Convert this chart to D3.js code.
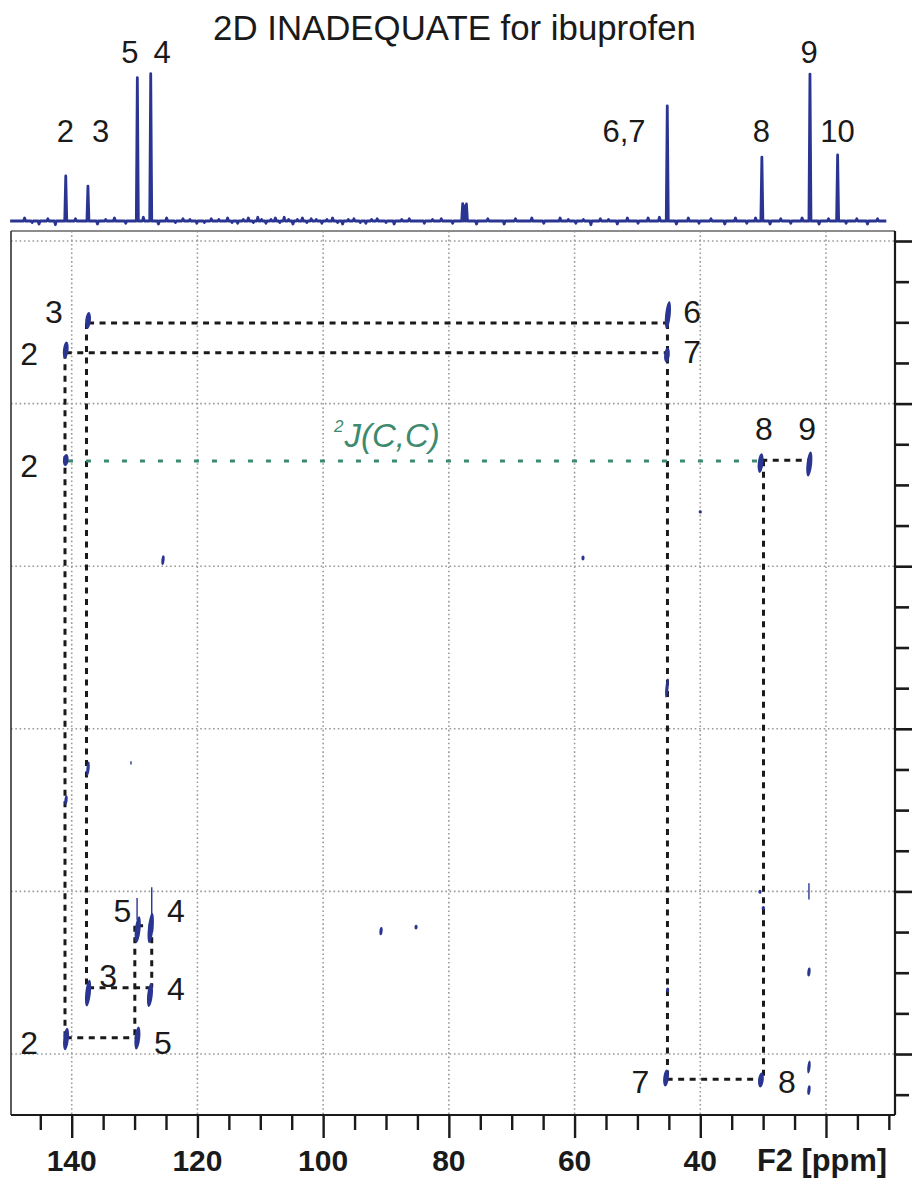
<!DOCTYPE html>
<html>
<head>
<meta charset="utf-8">
<script src="https://cdn.jsdelivr.net/npm/d3@7"></script>
<style>
  html, body { margin: 0; padding: 0; background: #fff; }
  svg { display: block; font-family: "Liberation Sans", Arial, Helvetica, sans-serif; }
</style>
</head>
<body>
<svg id="chart" width="912" height="1182"></svg>
<script>
// ---- 1D 13C projection (F2) ----
// [chemical shift ppm, intensity]
const projPeaks = [
  [140.95, 30.4], [137.42, 23.6], [129.56, 96.8], [127.43, 99.5],
  [77.8, 11.8], [77.5, 10.2], [77.2, 11.5],
  [45.25, 77.7], [30.2, 43.2], [22.55, 99.3], [18.15, 44.6]
];
// small baseline noise spikes [ppm, intensity]
const projNoise = [
  [147.5, 2], [146.3, -1], [145.2, -2], [143.8, 1.5], [142.6, -2.5], [139.4, 1.5], [135.9, -2],
  [134.6, 1], [133.2, 2], [131.4, -1.5], [128.6, 2.5], [126.2, -2], [124.9, 2], [123.5, -1],
  [122.3, 1.5], [121.2, 1], [120.1, -1.5], [118.9, -1], [117.8, 1.5], [116.6, 1],
  [115.2, 2], [114.5, -1], [113.6, -1.5], [112.7, 1], [111.9, 2], [111.1, -1], [110.4, 2.5],
  [109.8, 1], [109.1, -1.5], [108.3, 1], [107.6, 2], [106.9, -1], [106.2, 2.5], [105.5, 1],
  [104.8, -2], [104.1, 1], [103.3, 2], [102.6, -1], [101.9, 1.5], [101.1, 1], [100.2, -1.5],
  [99.4, 1], [98.5, 2], [97.7, -1], [96.9, -2], [96.0, 1], [95.1, 1.5], [94.1, -1],
  [93.2, -1.5], [92.3, 1], [91.4, 1.5], [90.0, -1], [88.7, -2], [87.5, 1], [86.3, 1.5],
  [83.9, -1.5], [82.6, 1], [81.2, 1.5], [79.4, -1.5], [75.6, -2], [73.8, 1.5], [71.2, -2],
  [69.4, 1.5], [66.8, 2], [64.9, -1.5], [62.3, 2], [61.0, 1], [59.8, -1.5], [58.6, 1],
  [57.4, -2.5], [55.9, 1.5], [54.6, 1], [53.2, -2], [51.6, 2], [49.9, -1.5], [48.3, 2],
  [46.5, 2.5], [43.8, -2], [41.9, 2], [40.2, -1.5], [38.3, 1.5], [36.1, -2], [34.4, 2],
  [32.6, -1.5], [31.2, 2], [28.9, -2], [27.2, 1.5], [25.6, -1.5], [23.8, 2], [21.1, -2],
  [19.6, 1.5], [16.8, -1.5], [15.1, 1.5], [13.4, -2], [11.8, 1.5]
];
const projRange = [149.8, 10.4];
// assignment labels on the projection: [text, ppm, intensity at baseline of text]
const projLabels = [
  ["2", 140.99, 53.4], ["3", 135.40, 53.4], ["5", 130.73, 107], ["4", 125.63, 107],
  ["6,7", 52.13, 53.4], ["8", 30.26, 53.4], ["9", 22.70, 107], ["10", 18.17, 53.4]
];

// ---- 2D INADEQUATE map: F2 (ppm) x F1 (double-quantum, ppm) ----
// strong correlations [F2 ppm, F1 ppm, F1 extent]
const crossPeaks = [
  [137.40, 189.78, 2.1], [45.15, 189.10, 3.4],
  [140.95, 193.41, 2.1], [45.30, 194.02, 1.85],
  [140.95, 206.94, 1.5], [30.40, 207.31, 2.45], [22.65, 207.43, 3.1],
  [129.50, 264.70, 3.3], [127.43, 264.50, 3.7],
  [137.40, 272.50, 3.3], [127.55, 272.74, 2.95],
  [140.90, 278.15, 2.8], [129.55, 278.03, 2.85],
  [45.45, 282.95, 2.1], [30.35, 283.20, 1.85]
];
// weak / artefact signals [F2 ppm, F1 ppm, F1 extent]
const weakPeaks = [
  [125.48, 219.24, 1.2], [58.66, 218.99, 0.6], [45.30, 234.98, 2.4],
  [137.41, 244.91, 1.8], [140.91, 248.76, 1.2], [22.71, 269.91, 1.1],
  [22.71, 281.60, 1.6], [22.71, 284.43, 1.2], [90.79, 264.88, 1.0],
  [85.22, 264.39, 0.6], [30.50, 260.04, 0.5], [29.97, 262.04, 0.5],
  [45.20, 272.13, 0.6], [40.0, 213.33, 0.4]
];
// thin ridges [F2 ppm, F1 start, F1 end]
const ridges = [
  [127.27, 259.5, 263.0], [129.60, 260.8, 263.5], [22.71, 259.0, 261.0], [130.57, 244.0, 244.4]
];
// connectivity paths [F2a, F1a, F2b, F1b]
const links = [
  [137.40, 190.09, 45.10, 190.09],
  [140.95, 193.74, 45.25, 193.74],
  [30.30, 206.97, 22.65, 206.97],
  [129.60, 264.22, 127.40, 264.22],
  [137.40, 271.85, 127.50, 271.85],
  [140.95, 278.00, 129.60, 278.00],
  [45.35, 283.11, 30.30, 283.11],
  [141.07, 193.74, 141.07, 278.00],
  [137.65, 190.09, 137.65, 271.85],
  [45.22, 190.09, 45.22, 283.11],
  [29.94, 206.97, 29.94, 283.11],
  [129.96, 264.22, 129.96, 278.00],
  [127.27, 264.22, 127.27, 271.85]
];
// two-bond coupling path
const twoBondLinks = [[140.60, 207.06, 30.90, 207.06]];
// assignment labels in the map [text, F2 ppm, F1 ppm (text baseline)]
const mapLabels = [
  ["3", 142.82, 190.09], ["2", 146.79, 195.25], ["2", 146.79, 209.03],
  ["6", 41.31, 190.09], ["7", 41.31, 195.01], ["8", 29.86, 204.48], ["9", 23.0, 204.48],
  ["5", 131.92, 263.76], ["4", 123.41, 263.76], ["3", 134.22, 271.76], ["4", 123.41, 273.36],
  ["2", 146.79, 280.0], ["5", 125.48, 280.0], ["7", 49.51, 284.80], ["8", 26.20, 284.80]
];
const couplingLabel = { ppm: 98.27, f1: 205.28 };

// axis ticks
const f2Ticks = d3.range(145, 9, -5);
const f2Labels = [140, 120, 100, 80, 60, 40];
const f1Ticks = d3.range(180, 290, 5);
const f2Grid = [140, 120, 100, 80, 60, 40, 20];
const f1Grid = [180, 200, 220, 240, 260, 280];

// ---- drawing ----
const svg = d3.select("#chart");
const BLUE = "#2a3592";
const GREEN = "#3d8a6f";
const INK = "#1a1a1a";

const plot = { left: 11, right: 895, top: 231, bottom: 1115 };
const x = d3.scaleLinear().domain([149.66, 9.02]).range([plot.left, plot.right]);
const y = d3.scaleLinear().domain([178.77, 287.5]).range([plot.top, plot.bottom]);
const yProj = d3.scaleLinear().domain([0, 100]).range([221, 73]);

// title
svg.append("text")
  .attr("x", 454.5).attr("y", 40)
  .attr("text-anchor", "middle")
  .attr("font-size", 34.8).attr("fill", INK)
  .text("2D INADEQUATE for ibuprofen");

// projection spectrum
const projPoints = [];
projPeaks.concat(projNoise).forEach(([p, h]) => {
  projPoints.push([p + 0.16, 0], [p, h], [p - 0.16, 0]);
});
projPoints.push([projRange[0], 0], [projRange[1], 0]);
projPoints.sort((a, b) => b[0] - a[0]);
svg.append("path")
  .datum(projPoints)
  .attr("fill", "none")
  .attr("stroke", BLUE)
  .attr("stroke-width", 2.8)
  .attr("stroke-linejoin", "round")
  .attr("d", d3.line().x(d => x(d[0])).y(d => yProj(d[1])));

svg.append("g").selectAll("text")
  .data(projLabels).join("text")
  .attr("x", d => x(d[1])).attr("y", d => yProj(d[2]))
  .attr("text-anchor", "middle")
  .attr("font-size", 31).attr("fill", INK)
  .text(d => d[0]);

// grid
const grid = svg.append("g")
  .attr("stroke", "#9a9a9a").attr("stroke-width", 1.6)
  .attr("stroke-dasharray", "1.6,2.7");
grid.selectAll(".gv").data(f2Grid).join("line")
  .attr("x1", d => x(d)).attr("x2", d => x(d))
  .attr("y1", plot.top).attr("y2", plot.bottom);
grid.selectAll(".gh").data(f1Grid).join("line")
  .attr("x1", plot.left).attr("x2", plot.right)
  .attr("y1", d => y(d)).attr("y2", d => y(d));

// frame
svg.append("line").attr("x1", plot.left).attr("x2", plot.right)
  .attr("y1", plot.top).attr("y2", plot.top)
  .attr("stroke", "#8c8c8c").attr("stroke-width", 2);
svg.append("line").attr("x1", plot.left).attr("x2", plot.left)
  .attr("y1", plot.top).attr("y2", plot.bottom)
  .attr("stroke", "#333").attr("stroke-width", 1.6);

// connectivity
svg.append("g").selectAll("line")
  .data(links).join("line")
  .attr("x1", d => x(d[0])).attr("y1", d => y(d[1]))
  .attr("x2", d => x(d[2])).attr("y2", d => y(d[3]))
  .attr("stroke", INK).attr("stroke-width", 3)
  .attr("stroke-dasharray", "6,5.5");
svg.append("g").selectAll("line")
  .data(twoBondLinks).join("line")
  .attr("x1", d => x(d[0])).attr("y1", d => y(d[1]))
  .attr("x2", d => x(d[2])).attr("y2", d => y(d[3]))
  .attr("stroke", GREEN).attr("stroke-width", 3)
  .attr("stroke-dasharray", "5,13");

// peaks
const ppmPx = y(1) - y(0);
svg.append("g").selectAll("line")
  .data(ridges).join("line")
  .attr("x1", d => x(d[0])).attr("x2", d => x(d[0]))
  .attr("y1", d => y(d[1])).attr("y2", d => y(d[2]))
  .attr("stroke", BLUE).attr("stroke-width", 1.4);
svg.append("g").selectAll("ellipse")
  .data(weakPeaks).join("ellipse")
  .attr("transform", d => `translate(${x(d[0])},${y(d[1])}) rotate(6)`)
  .attr("rx", 1.6).attr("ry", d => d[2] * ppmPx / 2)
  .attr("fill", BLUE);
svg.append("g").selectAll("ellipse")
  .data(crossPeaks).join("ellipse")
  .attr("transform", d => `translate(${x(d[0])},${y(d[1])}) rotate(6)`)
  .attr("rx", 2.8).attr("ry", d => d[2] * ppmPx / 2)
  .attr("fill", BLUE);

// labels in map
svg.append("g").selectAll("text")
  .data(mapLabels).join("text")
  .attr("x", d => x(d[1])).attr("y", d => y(d[2]))
  .attr("text-anchor", "middle")
  .attr("font-size", 32).attr("fill", INK)
  .text(d => d[0]);

const cl = svg.append("text")
  .attr("x", x(couplingLabel.ppm)).attr("y", y(couplingLabel.f1))
  .attr("fill", GREEN).attr("font-style", "italic");
cl.append("tspan").attr("font-size", 17).attr("dy", -15).text("2");
cl.append("tspan").attr("font-size", 33).attr("dy", 15).attr("dx", 1).text("J(C,C)");

// bottom F2 axis
const xAxis = svg.append("g")
  .attr("transform", `translate(0,${plot.bottom})`)
  .call(d3.axisBottom(x).tickValues(f2Ticks).tickFormat("").tickSizeOuter(0));
xAxis.select(".domain").attr("stroke", INK).attr("stroke-width", 2.2)
  .attr("d", `M${plot.left},0H${plot.right}`);
xAxis.selectAll(".tick line")
  .attr("stroke", INK).attr("stroke-width", 2.4)
  .attr("y2", d => d % 20 === 0 ? 23 : 15);
svg.append("g").selectAll("text")
  .data(f2Labels).join("text")
  .attr("x", d => x(d)).attr("y", 1171)
  .attr("text-anchor", "middle")
  .attr("font-size", 30).attr("font-weight", "bold").attr("fill", INK)
  .text(d => d);
svg.append("text")
  .attr("x", 757).attr("y", 1171)
  .attr("font-size", 30.8).attr("font-weight", "bold").attr("fill", INK)
  .text("F2 [ppm]");

// right F1 axis
const yAxis = svg.append("g")
  .attr("transform", `translate(${plot.right},0)`)
  .call(d3.axisRight(y).tickValues(f1Ticks).tickFormat("").tickSizeOuter(0));
yAxis.select(".domain").attr("stroke", INK).attr("stroke-width", 2.2)
  .attr("d", `M0,${plot.top}V${plot.bottom}`);
yAxis.selectAll(".tick line")
  .attr("stroke", INK).attr("stroke-width", 2.6)
  .attr("x2", d => d % 20 === 0 ? 17 : 14);
</script>
</body>
</html>
